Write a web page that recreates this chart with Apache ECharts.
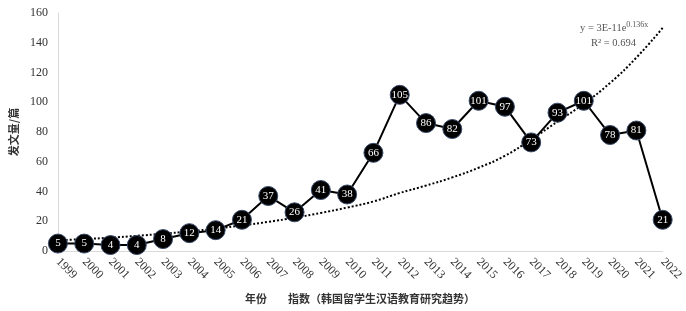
<!DOCTYPE html>
<html>
<head>
<meta charset="utf-8">
<script src="https://cdn.jsdelivr.net/npm/echarts@6/dist/echarts.min.js"></script>
<style>html,body{margin:0;padding:0;background:#fff;}#c{width:686px;height:311px;}</style>
</head>
<body>
<div id="c"></div>
<script>
var years = ['1999','2000','2001','2002','2003','2004','2005','2006','2007','2008','2009','2010','2011','2012','2013','2014','2015','2016','2017','2018','2019','2020','2021','2022'];
var counts = [5,5,4,4,8,12,14,21,37,26,41,38,66,105,86,82,101,97,73,93,101,78,81,21];
// exponential trend line
var trend = [7.2,8.0,9.0,10.2,11.6,13.2,15.0,17.2,19.6,22.4,25.6,29.2,33.3,39.0,44.0,49.5,56.0,64.0,75.0,87.0,99.0,113.0,130.0,150.0];
var yTicks = [0,20,40,60,80,100,120,140,160];
var yName = '发文量/篇';
var xName1 = '年份';
var xName2 = '指数（韩国留学生汉语教育研究趋势）';

var serif = '"Liberation Serif","DejaVu Serif",serif';
var cjk = '"Noto Sans CJK SC","Noto Sans",sans-serif';

var chart = echarts.init(document.getElementById('c'), null, {renderer:'canvas'});
chart.setOption({
  animation: false,
  grid: {left: 49, right: 20, top: 13, bottom: 60, containLabel: false},
  xAxis: {
    type: 'category',
    data: years,
    boundaryGap: false,
    axisLine: {show: true, lineStyle: {color: '#d9d9d9', width: 1}},
    axisTick: {show: false},
    axisLabel: {rotate: -45, interval: 0, color: '#333', fontFamily: serif, fontSize: 12, margin: 9}
  },
  yAxis: {
    type: 'value',
    min: yTicks[0], max: yTicks[yTicks.length-1], interval: 20,
    name: yName,
    nameLocation: 'middle',
    nameRotate: 90,
    nameGap: 37,
    nameTextStyle: {fontFamily: cjk, fontSize: 11, color: '#333', fontWeight: 'bold'},
    axisLine: {show: true, lineStyle: {color: '#d9d9d9', width: 1}},
    axisTick: {show: false},
    splitLine: {show: false},
    axisLabel: {color: '#333', fontFamily: serif, fontSize: 12, margin: 10}
  },
  graphic: [
    {type: 'text', left: 245, top: 293, style: {text: xName1, font: 'bold 11px ' + cjk, fill: '#333'}},
    {type: 'text', left: 288, top: 293, style: {text: xName2, font: 'bold 11px ' + cjk, fill: '#333'}},
    {type: 'text', left: 580, top: 21, style: {
      text: '{a|y = 3E-11e}{s|0.136x}\n{b|R² = 0.694}',
      rich: {
        a: {fontFamily: serif, fontSize: 10.5, fill: '#555', color: '#555', lineHeight: 15},
        s: {fontFamily: serif, fontSize: 8, fill: '#555', color: '#555', verticalAlign: 'top', lineHeight: 15, padding: [0,0,5,0]},
        b: {fontFamily: serif, fontSize: 10.5, fill: '#555', color: '#555', lineHeight: 15, padding: [0,0,0,11]}
      }
    }}
  ],
  series: [
    {
      type: 'line',
      data: trend,
      smooth: true,
      symbol: 'none',
      z: 1,
      lineStyle: {color: '#000', width: 2, type: [2, 2]}
    },
    {
      type: 'line',
      data: counts,
      symbol: 'circle',
      symbolSize: 19,
      z: 3,
      lineStyle: {color: '#000', width: 2},
      itemStyle: {color: '#000', borderColor: '#3a4a6a', borderWidth: 1},
      label: {show: true, position: 'inside', color: '#fff', fontFamily: serif, fontSize: 11}
    }
  ]
});
</script>
</body>
</html>
